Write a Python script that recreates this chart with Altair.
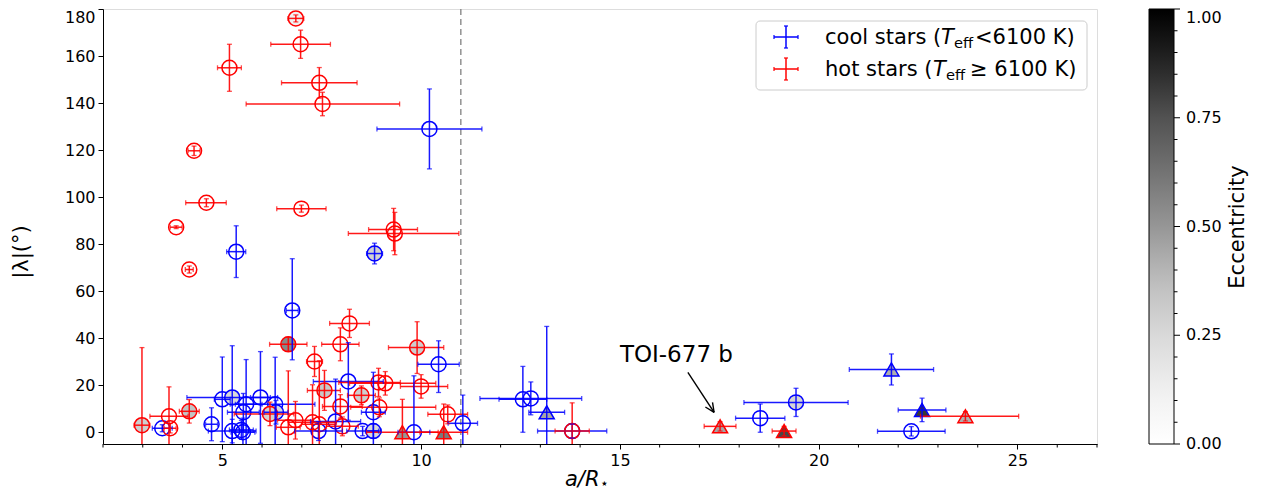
import altair as alt
import pandas as pd

# ---------------- data ----------------
# cool stars (Teff < 6100 K)
cool_x   = [10.21, 5.35, 8.83, 6.76, 10.44, 8.17, 5.96, 5.25, 5.00, 5.60, 5.53, 6.33, 6.35, 4.73, 3.49, 5.25, 5.48, 5.52,
            7.42, 7.85, 8.80, 8.53, 8.80, 9.82, 11.05, 12.56, 12.76, 13.16, 13.80, 18.53, 19.43, 21.83, 22.60, 22.33]
cool_y   = [129.0, 76.8, 76.0, 51.8, 28.9, 21.6, 14.8, 14.8, 14.0, 11.9, 8.5, 11.9, 8.5, 3.4, 1.7, 0.5, 1.0, 0.0,
            0.5, 4.6, 8.5, 0.5, 0.5, 0.0, 3.8, 14.0, 14.4, 8.5, 0.5, 6.0, 12.7, 26.7, 9.5, 0.4]
cool_xlo = [1.32, 0.24, 0.20, 0.15, 0.52, 0.88, 0.25, 1.14, 0.20, 0.40, 0.40, 1.00, 0.30, 0.15, 0.25, 0.60, 0.30, 0.30,
            0.60, 0.63, 0.30, 0.40, 0.20, 0.40, 0.37, 0.60, 1.28, 0.45, 0.87, 0.62, 1.31, 1.06, 0.60, 0.85]
cool_xhi = [1.32, 0.24, 0.20, 0.15, 0.52, 0.88, 0.25, 1.14, 0.20, 0.40, 0.40, 1.00, 0.30, 0.15, 0.25, 0.60, 0.30, 0.30,
            0.60, 0.63, 0.30, 0.40, 0.20, 0.40, 0.37, 0.60, 1.28, 0.45, 0.87, 0.62, 1.31, 1.06, 0.60, 0.85]
cool_ylo = [17.0, 11.0, 4.4, 21.0, 12.0, 16.5, 19.5, 22.0, 18.0, 19.0, 8.0, 20.0, 5.0, 7.0, 1.5, 5.0, 4.0, 6.0,
            4.0, 18.0, 17.0, 2.0, 3.0, 24.0, 12.0, 14.0, 7.0, 36.5, 3.0, 6.0, 6.0, 6.6, 5.0, 2.0]
cool_yhi = [17.0, 11.0, 4.4, 22.0, 10.0, 16.5, 19.5, 22.0, 18.0, 19.0, 8.0, 20.0, 5.0, 7.0, 1.5, 5.0, 4.0, 6.0,
            4.0, 18.0, 17.0, 2.0, 3.0, 24.0, 12.0, 14.0, 7.0, 36.5, 3.0, 6.0, 6.0, 6.6, 5.0, 2.0]
cool_ecc = [0, 0, 0.28, 0, 0, 0, 0, 0.25, 0, 0, 0, 0, 0.25, 0, 0, 0, 0, 0,
            0, 0, 0, 0, 0.25, 0, 0, 0, 0, 0.45, 0, 0, 0.27, 0.42, 0.82, 0]
cool_mark = ["circle"] * 27 + ["triangle"] + ["circle"] * 3 + ["triangle", "triangle", "circle"]

# hot stars (Teff >= 6100 K)
hot_x   = [6.85, 6.97, 5.18, 7.44, 7.52, 4.29, 4.60, 6.99, 3.84, 9.31, 9.34, 4.17, 8.20, 7.97, 6.66, 9.90, 7.32, 10.00,
           8.93, 9.10, 7.57, 8.50, 7.97, 8.95, 10.67, 4.17, 2.98, 3.66, 3.69, 6.66, 6.84, 7.27, 7.44, 8.02, 6.20,
           9.53, 10.57, 13.80, 17.52, 19.13, 23.69]
hot_y   = [176.0, 165.0, 155.0, 148.6, 139.6, 119.7, 97.6, 95.1, 87.2, 86.2, 84.5, 69.2, 46.3, 37.4, 37.4, 36.0, 30.1, 19.5,
           21.2, 20.8, 17.8, 15.7, 11.0, 10.6, 7.6, 8.9, 3.0, 6.8, 1.7, 2.1, 5.1, 4.2, 3.4, 2.5, 7.8,
           0.0, 0.0, 0.5, 2.5, 0.5, 6.8]
hot_xlo = [0.20, 0.75, 0.30, 0.95, 1.92, 0.15, 0.52, 0.62, 0.15, 0.63, 1.17, 0.10, 0.50, 0.47, 0.47, 0.72, 0.20, 0.52,
           1.00, 0.90, 0.43, 0.35, 0.45, 0.72, 0.50, 0.25, 0.20, 0.48, 0.15, 0.30, 0.45, 0.60, 0.45, 0.40, 0.90,
           0.90, 0.60, 0.43, 0.40, 0.30, 1.13]
hot_xhi = [0.20, 0.75, 0.30, 0.95, 1.94, 0.15, 0.50, 0.62, 0.15, 0.60, 1.61, 0.10, 0.50, 0.47, 0.47, 0.67, 0.20, 0.67,
           0.55, 1.27, 0.40, 0.35, 0.55, 1.42, 0.50, 0.25, 0.20, 0.48, 0.15, 0.30, 0.45, 0.60, 0.40, 0.40, 0.60,
           0.90, 0.60, 0.43, 0.40, 0.30, 1.34]
hot_ylo = [1.5, 6.0, 10.0, 6.5, 5.0, 2.0, 1.7, 1.5, 0.6, 9.0, 9.0, 1.5, 6.0, 7.0, 3.0, 11.0, 6.4, 5.0,
           6.0, 5.0, 8.5, 4.0, 5.0, 4.0, 4.0, 5.0, 33.0, 12.5, 2.0, 24.0, 8.0, 16.0, 27.0, 4.0, 5.0,
           14.0, 12.0, 12.0, 2.0, 2.0, 2.0]
hot_yhi = [1.5, 6.0, 10.0, 6.5, 5.0, 2.0, 1.7, 1.5, 0.6, 9.0, 9.0, 1.5, 6.0, 7.0, 3.0, 11.0, 6.4, 5.0,
           6.0, 5.0, 8.5, 4.0, 5.0, 4.0, 4.0, 5.0, 33.0, 12.5, 2.0, 24.0, 8.0, 16.0, 27.0, 4.0, 5.0,
           14.0, 12.0, 12.0, 2.0, 2.0, 2.0]
hot_ecc = [0.12, 0, 0, 0, 0, 0, 0, 0, 0, 0, 0, 0, 0, 0, 0.55, 0.3, 0, 0,
           0, 0, 0.32, 0.3, 0, 0, 0, 0.35, 0.3, 0, 0, 0, 0, 0, 0, 0, 0.28,
           0.5, 0.6, 0, 0.45, 0.78, 0.42]
hot_mark = ["circle"] * 35 + ["triangle", "triangle", "circle", "triangle", "triangle", "triangle"]

# axis ticks, limits, colour map, annotation
x_domain = [2, 27]
y_domain = [-5, 180]
x_major = [5, 10, 15, 20, 25]
x_minor = [v for v in range(2, 28) if v % 5 != 0]
y_ticks = list(range(0, 181, 20))
ecc_ticks = [0, 0.25, 0.5, 0.75, 1.0]
greys_stops = [0, 0.125, 0.25, 0.375, 0.5, 0.625, 0.75, 0.875, 1.0]
greys_cols = ["#ffffff", "#f0f0f0", "#d9d9d9", "#bdbdbd", "#969696", "#737373", "#525252", "#252525", "#000000"]
split_a = [11]
ann_label = ["TOI-677 b"]
ann_text_xy = [15.0, 30.0]
arrow_x1 = [16.71, 17.33, 17.15]
arrow_y1 = [25.47, 12.69, 10.74]
arrow_x2 = [17.37, 17.37, 17.37]
arrow_y2 = [8.49, 8.49, 8.49]

# ---------------- build table ----------------
rows = []
for grp, X, Y, XL, XH, YL, YH, E, M in [
    ("cool", cool_x, cool_y, cool_xlo, cool_xhi, cool_ylo, cool_yhi, cool_ecc, cool_mark),
    ("hot", hot_x, hot_y, hot_xlo, hot_xhi, hot_ylo, hot_yhi, hot_ecc, hot_mark),
]:
    for i in range(len(X)):
        rows.append(dict(group=grp, x=X[i], y=Y[i], xlo=X[i] - XL[i], xhi=X[i] + XH[i],
                         ylo=Y[i] - YL[i], yhi=Y[i] + YH[i], ecc=E[i], marker=M[i]))
df = pd.DataFrame(rows)

FONT = "DejaVu Sans"
W, H = 994, 435
LBL = 16
xs = alt.Scale(domain=x_domain, nice=False, zero=False)
ys = alt.Scale(domain=y_domain, nice=False, zero=False)
col_scale = alt.Scale(domain=["cool", "hot"], range=["#0000ff", "#ff0000"])
shape_scale = alt.Scale(domain=["circle", "triangle"], range=["circle", "triangle-up"])

x_axis = alt.Axis(values=x_major, title=None, grid=False, tickSize=5, labelOverlap=False,
                  labelFontSize=LBL, labelFont=FONT, labelColor="black", tickColor="black",
                  domainColor="black", labelPadding=3, labelFlush=False)
y_axis = alt.Axis(values=y_ticks, title=None, grid=False, tickSize=5, labelOverlap=False,
                  labelBaseline={"condition": {"test": "datum.value === 180", "value": "top"}, "value": "middle"},
                  labelFontSize=LBL, labelFont=FONT, labelColor="black", tickColor="black",
                  domainColor="black", labelPadding=3, labelFlush=False)

base = alt.Chart(df)
stroke = alt.Stroke("group:N", scale=col_scale, legend=None)

vline = alt.Chart(pd.DataFrame({"a": split_a})).mark_rule(
    color="#808080", strokeDash=[6, 4], strokeWidth=1.3).encode(
    x=alt.X("a:Q", scale=xs, axis=x_axis))

minor = alt.Chart(pd.DataFrame({"m": x_minor})).mark_rule(color="black", strokeWidth=1).encode(
    x=alt.X("m:Q", scale=xs, axis=x_axis), y=alt.value(H), y2=alt.value(H + 3.5))

open_pts = base.transform_filter("datum.ecc == 0").mark_point(
    filled=False, size=225, strokeWidth=1.5, opacity=1, clip=True).encode(
    x=alt.X("x:Q", scale=xs, axis=x_axis), y=alt.Y("y:Q", scale=ys, axis=y_axis),
    stroke=stroke, shape=alt.Shape("marker:N", scale=shape_scale, legend=None))

filled_pts = base.transform_filter("datum.ecc > 0").mark_point(
    filled=True, size=225, strokeWidth=1.5, opacity=1, fillOpacity=1, clip=True).encode(
    x=alt.X("x:Q", scale=xs, axis=x_axis), y=alt.Y("y:Q", scale=ys, axis=y_axis),
    stroke=stroke, shape=alt.Shape("marker:N", scale=shape_scale, legend=None),
    fill=alt.Fill("ecc:Q", scale=alt.Scale(domain=greys_stops, range=greys_cols, interpolate="rgb"),
                  legend=alt.Legend(title=None, orient="right", offset=52, padding=0,
                                    direction="vertical", gradientLength=H, gradientThickness=25,
                                    values=ecc_ticks, labelExpr="''", labelFontSize=LBL,
                                    labelFont=FONT, labelColor="black", labelOffset=12,
                                    gradientOpacity=1,
                                    gradientStrokeColor="black", gradientStrokeWidth=1)))

xerr = base.mark_rule(strokeWidth=1.5, opacity=0.9, clip=True).encode(
    x=alt.X("xlo:Q", scale=xs, axis=x_axis), x2="xhi:Q", y=alt.Y("y:Q", scale=ys, axis=y_axis), stroke=stroke)
yerr = base.mark_rule(strokeWidth=1.5, opacity=0.9, clip=True).encode(
    x=alt.X("x:Q", scale=xs, axis=x_axis), y=alt.Y("ylo:Q", scale=ys, axis=y_axis), y2="yhi:Q", stroke=stroke)
cap_enc = alt.Color("group:N", scale=col_scale, legend=None)
cap_xlo = base.mark_tick(orient="vertical", size=5, thickness=1.3, clip=True).encode(
    x=alt.X("xlo:Q", scale=xs, axis=x_axis), y=alt.Y("y:Q", scale=ys, axis=y_axis), color=cap_enc)
cap_xhi = base.mark_tick(orient="vertical", size=5, thickness=1.3, clip=True).encode(
    x=alt.X("xhi:Q", scale=xs, axis=x_axis), y=alt.Y("y:Q", scale=ys, axis=y_axis), color=cap_enc)
cap_ylo = base.mark_tick(orient="horizontal", size=5, thickness=1.3, clip=True).encode(
    x=alt.X("x:Q", scale=xs, axis=x_axis), y=alt.Y("ylo:Q", scale=ys, axis=y_axis), color=cap_enc)
cap_yhi = base.mark_tick(orient="horizontal", size=5, thickness=1.3, clip=True).encode(
    x=alt.X("x:Q", scale=xs, axis=x_axis), y=alt.Y("yhi:Q", scale=ys, axis=y_axis), color=cap_enc)

# annotation
ann_df = pd.DataFrame({"x": [ann_text_xy[0]], "y": [ann_text_xy[1]], "t": ann_label})
ann_text = alt.Chart(ann_df).mark_text(align="left", baseline="alphabetic", fontSize=23, font=FONT,
                                       color="black").encode(
    x=alt.X("x:Q", scale=xs, axis=x_axis), y=alt.Y("y:Q", scale=ys, axis=y_axis), text="t:N")
arr_df = pd.DataFrame({"x1": arrow_x1, "y1": arrow_y1, "x2": arrow_x2, "y2": arrow_y2})
arrow = alt.Chart(arr_df).mark_rule(color="black", strokeWidth=1.4).encode(
    x=alt.X("x1:Q", scale=xs, axis=x_axis), y=alt.Y("y1:Q", scale=ys, axis=y_axis), x2="x2:Q", y2="y2:Q")

one = alt.Data(values=[{"k": 1}])


def txt(s, x, y, size, **kw):
    return alt.Chart(one).mark_text(text=s, fontSize=size, font=FONT, color="black", **kw).encode(
        x=alt.value(x), y=alt.value(y))


def seg(x1, y1, x2, y2, color, w=1.5):
    return alt.Chart(one).mark_rule(color=color, strokeWidth=w).encode(
        x=alt.value(x1), y=alt.value(y1), x2=alt.value(x2), y2=alt.value(y2))


# legend box (cool / hot)
box = alt.Chart(one).mark_rect(fill="white", fillOpacity=0.85, stroke="#cccccc", strokeWidth=1,
                               cornerRadius=4).encode(
    x=alt.value(653), x2=alt.value(984), y=alt.value(12), y2=alt.value(81))
leg = [box]
for cy, colr in [(28, "#0000ff"), (60, "#ff0000")]:
    leg += [seg(671, cy, 695, cy, colr), seg(683, cy - 11, 683, cy + 11, colr),
            seg(671, cy - 2, 671, cy + 2, colr, 1.2), seg(695, cy - 2, 695, cy + 2, colr, 1.2),
            seg(681, cy - 11, 685, cy - 11, colr, 1.2), seg(681, cy + 11, 685, cy + 11, colr, 1.2)]
leg += [
    txt("cool stars (", 722, 29, 21, align="left", baseline="middle"),
    txt("T", 838, 29, 21, align="left", baseline="middle", fontStyle="italic"),
    txt("eff", 851, 35, 14.7, align="left", baseline="middle"),
    txt("<6100 K)", 872, 29, 21, align="left", baseline="middle"),
    txt("hot stars (", 722, 61, 21, align="left", baseline="middle"),
    txt("T", 830, 61, 21, align="left", baseline="middle", fontStyle="italic"),
    txt("eff", 843, 67, 14.7, align="left", baseline="middle"),
    txt("\u2265 6100 K)", 867, 61, 21, align="left", baseline="middle"),
]

# axis titles
titles = [
    txt("a/R", 462, 477, 21, align="left", baseline="alphabetic", fontStyle="italic"),
    txt("\u22c6", 497, 479, 14, align="left", baseline="alphabetic"),
    txt("|\u03bb|(\u00b0)", -81, 243, 21, align="center", baseline="middle", angle=270),
    txt("Eccentricity", 1135, 218, 21, align="center", baseline="middle", angle=270),
]

# colorbar ticks and labels
cb_x0 = W + 52 + 25
cb = []
for k in range(21):
    v = k * 0.05
    yy = H * (1 - v)
    L = 6 if k % 5 == 0 else 3.5
    cb.append(seg(cb_x0, yy, cb_x0 + L, yy, "black", 1))
for v in ecc_ticks:
    ylab = max(H * (1 - v), 8.5)
    cb.append(txt(f"{v:.2f}", cb_x0 + 12, ylab, LBL, align="left", baseline="middle"))

chart = alt.layer(vline, minor, open_pts, filled_pts, xerr, yerr, cap_xlo, cap_xhi, cap_ylo, cap_yhi,
                  ann_text, arrow, *leg, *titles, *cb).properties(
    width=W, height=H,
    autosize=alt.AutoSizeParams(type="none"),
    padding={"left": 95, "top": 1, "right": 155, "bottom": 48},
).configure_view(stroke="black", strokeWidth=1).configure(background="white")

chart.save("out.html", embed_options={"renderer": "svg", "actions": False})
